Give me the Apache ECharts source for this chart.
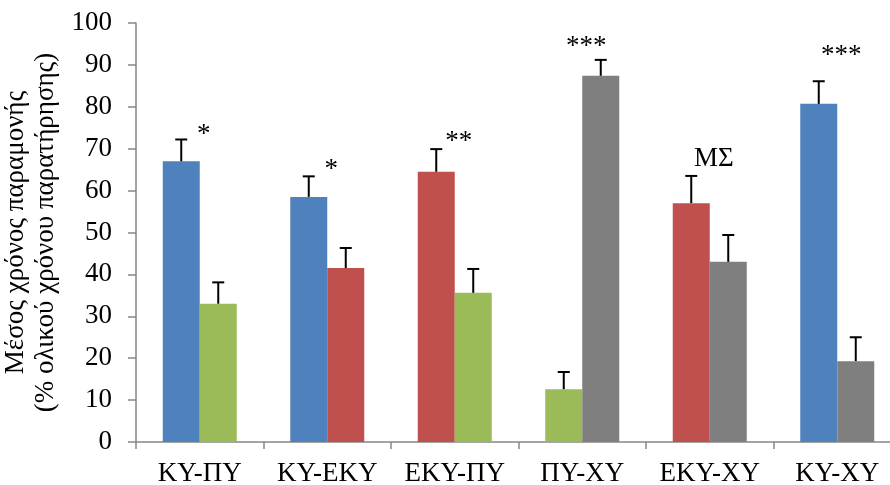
<!DOCTYPE html>
<html>
<head>
<meta charset="utf-8">
<script src="https://cdn.jsdelivr.net/npm/echarts@6/dist/echarts.min.js"></script>
<style>
  html, body { margin: 0; padding: 0; background: #fff; }
  #chart { width: 890px; height: 485px; }
</style>
</head>
<body>
<div id="chart"></div>
<script>
// Pairwise comparisons of mean time spent in each zone (% of total observation time)
const categories = ['ΚΥ-ΠΥ', 'ΚΥ-ΕΚΥ', 'ΕΚΥ-ΠΥ', 'ΠΥ-ΧΥ', 'ΕΚΥ-ΧΥ', 'ΚΥ-ΧΥ'];

// zone shown by the left and right bar of each pair
const leftZone  = ['ΚΥ', 'ΚΥ', 'ΕΚΥ', 'ΠΥ', 'ΕΚΥ', 'ΚΥ'];
const rightZone = ['ΠΥ', 'ΕΚΥ', 'ΠΥ', 'ΧΥ', 'ΧΥ', 'ΧΥ'];

// mean values and upper error (SE) for the left / right bar
const leftMean  = [67.0, 58.5, 64.5, 12.6, 57.0, 80.7];
const leftErr   = [5.2, 4.9, 5.4, 4.1, 6.5, 5.4];
const rightMean = [33.0, 41.5, 35.6, 87.4, 43.0, 19.3];
const rightErr  = [5.1, 4.8, 5.7, 3.8, 6.4, 5.7];

// significance markers and the value height they sit at
const sigText  = ['*', '*', '**', '***', 'ΜΣ', '***'];
const sigLevel = [73.4, 65.0, 71.7, 94.3, 67.5, 92.1];

const yTicks = [0, 10, 20, 30, 40, 50, 60, 70, 80, 90, 100];

const zoneColor = { 'ΚΥ': '#4F81BD', 'ΕΚΥ': '#C0504D', 'ΠΥ': '#9BBB59', 'ΧΥ': '#7F7F7F' };

const FONT = '"Liberation Serif", "Times New Roman", serif';
const BAR_W = 37;
const AXIS_COLOR = '#868686';

function barData(means, zones) {
  return means.map((v, i) => ({ value: v, itemStyle: { color: zoneColor[zones[i]] } }));
}

function errorSeries(means, errs, side) {
  return {
    type: 'custom',
    z: 5,
    silent: true,
    data: means.map((m, i) => [i, m, m + errs[i]]),
    renderItem: function (params, api) {
      const base = api.coord([api.value(0), api.value(1)]);
      const top = api.coord([api.value(0), api.value(2)]);
      const x = base[0] + side * BAR_W / 2;
      const cap = 6;
      const style = { stroke: '#000', lineWidth: 2 };
      return {
        type: 'group',
        children: [
          { type: 'line', shape: { x1: x, y1: base[1], x2: x, y2: top[1] }, style: style },
          { type: 'line', shape: { x1: x - cap, y1: top[1], x2: x + cap, y2: top[1] }, style: style }
        ]
      };
    }
  };
}

const chart = echarts.init(document.getElementById('chart'), null, { renderer: 'canvas' });

chart.setOption({
  animation: false,
  backgroundColor: '#ffffff',
  grid: { left: 136, right: -11, top: 23, bottom: 43, containLabel: false, outerBoundsMode: 'none' },
  xAxis: {
    type: 'category',
    data: categories,
    boundaryGap: true,
    axisLine: { show: true, lineStyle: { color: AXIS_COLOR, width: 1.5 } },
    axisTick: { show: true, length: 7, alignWithLabel: false, lineStyle: { color: AXIS_COLOR, width: 1.5 } },
    axisLabel: { color: '#000', fontFamily: FONT, fontSize: 27, margin: 18, interval: 0 },
    splitLine: { show: false }
  },
  yAxis: {
    type: 'value',
    min: yTicks[0],
    max: yTicks[yTicks.length - 1],
    interval: 10,
    name: 'Μέσος χρόνος παραμονής\n(% ολικού χρόνου παρατήρησης)',
    nameLocation: 'middle',
    nameGap: 71,
    nameRotate: 90,
    nameTextStyle: { color: '#000', fontFamily: FONT, fontSize: 27, lineHeight: 30 },
    axisLine: { show: true, lineStyle: { color: AXIS_COLOR, width: 1.5 } },
    axisTick: { show: true, length: 8, lineStyle: { color: AXIS_COLOR, width: 1.5 } },
    axisLabel: { color: '#000', fontFamily: FONT, fontSize: 27, margin: 24 },
    splitLine: { show: false }
  },
  series: [
    {
      type: 'bar',
      barWidth: BAR_W,
      barGap: '0%',
      data: barData(leftMean, leftZone)
    },
    {
      type: 'bar',
      barWidth: BAR_W,
      barGap: '0%',
      data: barData(rightMean, rightZone)
    },
    errorSeries(leftMean, leftErr, -1),
    errorSeries(rightMean, rightErr, 1),
    {
      type: 'custom',
      z: 6,
      silent: true,
      data: sigLevel.map((v, i) => [i, v]),
      renderItem: function (params, api) {
        const p = api.coord([api.value(0), api.value(1)]);
        return {
          type: 'text',
          x: p[0] + 4,
          y: p[1],
          style: {
            text: sigText[params.dataIndex],
            fill: '#000',
            font: '27px ' + FONT,
            textAlign: 'center',
            textVerticalAlign: 'middle'
          }
        };
      }
    }
  ]
});
</script>
</body>
</html>
